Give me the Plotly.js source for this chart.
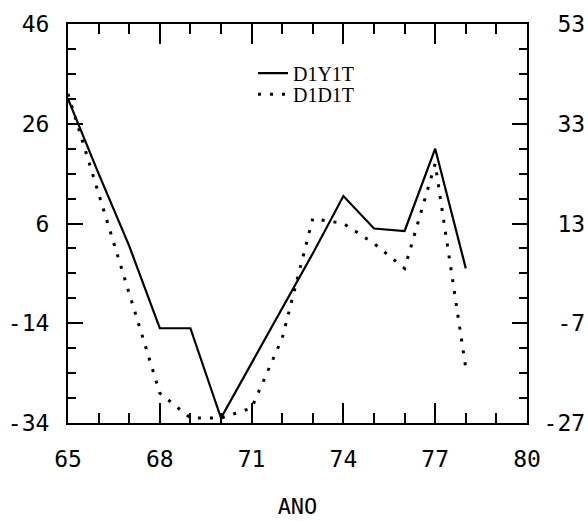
<!DOCTYPE html>
<html>
<head>
<meta charset="utf-8">
<script src="https://cdn.plot.ly/plotly-3.0.1.min.js"></script>
<style>html,body{margin:0;padding:0;background:#fff;}#chart{width:588px;height:521px;}</style>
</head>
<body>
<div id="chart"></div>
<script>
// Data
const years = [65, 66, 67, 68, 69, 70, 71, 72, 73, 74, 75, 76, 77, 78];
const D1Y1T = [31, 16, 1.5, -15, -15, -33, -22, -11, 0, 11.5, 5, 4.5, 21, -3];
const D1D1T = [32, 12, -8, -28, -33, -33, -31, -17, 7, 6, 2, -3, 18, -23];

const xTickVals = [65, 68, 71, 74, 77, 80];
const xTickText = ["65", "68", "71", "74", "77", "80"];
const yLeftVals = [-34, -14, 6, 26, 46];
const yLeftText = ["-34", "-14", "6", "26", "46"];
const yRightVals = [-27, -7, 13, 33, 53];
const yRightText = ["-27", "\u00a0-7", "\u00a013", "\u00a033", "\u00a053"];

const tickFont = {family: "DejaVu Sans Mono", size: 23, color: "#000"};

const traces = [
  {x: years, y: D1Y1T, name: "D1Y1T", type: "scatter", mode: "lines",
   line: {color: "#000", width: 2.2}, legend: "legend"},
  {x: years, y: D1D1T, name: "D1D1T", type: "scatter", mode: "lines",
   line: {color: "#000", width: 3, dash: "3px,9px"}, legend: "legend2"},
  // carrier so that the right-hand axis is drawn; it has no visible points
  {x: [null], y: [null], yaxis: "y2", type: "scatter", mode: "lines",
   showlegend: false, hoverinfo: "skip"}
];

const legendCommon = {
  xanchor: "left", yanchor: "top", bgcolor: "rgba(0,0,0,0)", borderwidth: 0,
  font: {family: "Liberation Serif", size: 20, color: "#000"}, itemwidth: 30
};

const layout = {
  width: 588, height: 521,
  margin: {l: 68, r: 61, t: 24, b: 98},
  paper_bgcolor: "#fff", plot_bgcolor: "#fff",
  showlegend: true,
  legend: Object.assign({x: 0.403, y: 0.926}, legendCommon),
  legend2: Object.assign({x: 0.403, y: 0.873}, legendCommon),
  xaxis: {
    range: [65, 80], tickmode: "array", tickvals: xTickVals, ticktext: xTickText,
    ticks: "inside", ticklen: 20, tickwidth: 2, tickcolor: "#000",
    minor: {tick0: 65, dtick: 1, ticks: "inside", ticklen: 10, tickwidth: 2, tickcolor: "#000"},
    showline: true, linewidth: 2, linecolor: "#000", mirror: "ticks",
    showgrid: false, zeroline: false, tickfont: tickFont, ticklabelstandoff: 14,
    title: {text: "ANO", font: {family: "DejaVu Sans Mono", size: 22, color: "#000"}, standoff: 28}
  },
  yaxis: {
    range: [-34, 46], tickmode: "array", tickvals: yLeftVals, ticktext: yLeftText,
    ticks: "inside", ticklen: 15, tickwidth: 2, tickcolor: "#000",
    minor: {tick0: -34, dtick: 5, ticks: "inside", ticklen: 8, tickwidth: 2, tickcolor: "#000"},
    showline: true, linewidth: 2, linecolor: "#000",
    showgrid: false, zeroline: false, tickfont: tickFont, ticklabelstandoff: 12
  },
  yaxis2: {
    overlaying: "y", side: "right",
    range: [-27, 53], tickmode: "array", tickvals: yRightVals, ticktext: yRightText,
    ticks: "inside", ticklen: 15, tickwidth: 2, tickcolor: "#000",
    minor: {tick0: -27, dtick: 5, ticks: "inside", ticklen: 8, tickwidth: 2, tickcolor: "#000"},
    showline: true, linewidth: 2, linecolor: "#000",
    showgrid: false, zeroline: false, tickfont: tickFont, ticklabelstandoff: 10
  }
};

Plotly.newPlot("chart", traces, layout, {staticPlot: true, displayModeBar: false});
</script>
</body>
</html>
